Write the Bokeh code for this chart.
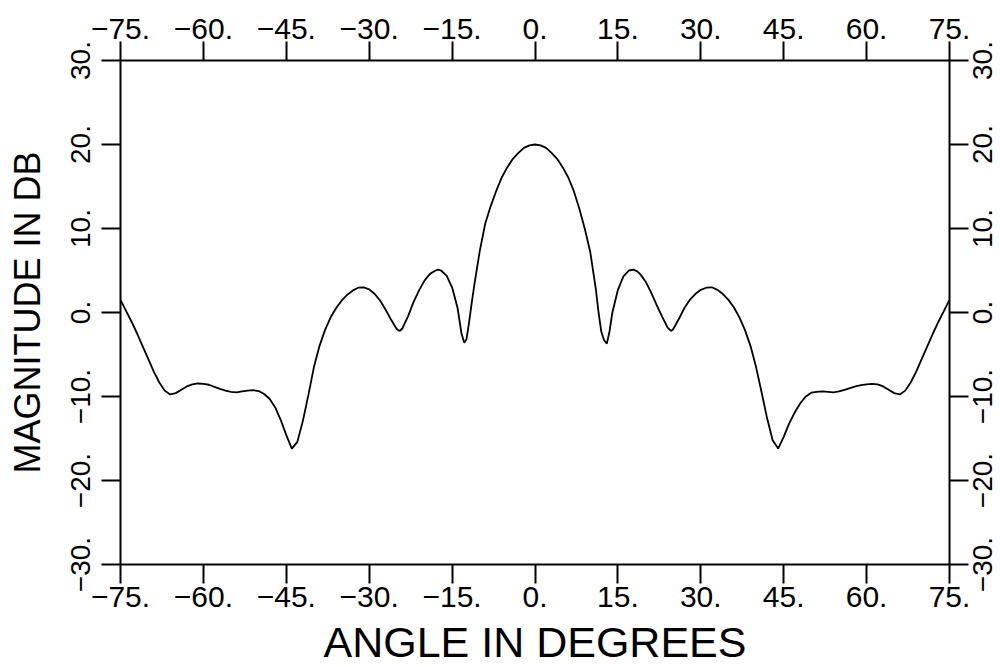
import math
from bokeh.plotting import figure
from bokeh.models import LinearAxis, FixedTicker, Range1d, LabelSet, ColumnDataSource
from bokeh.core.properties import value
from bokeh.embed import file_html
from bokeh.resources import INLINE

# ---- data ----
angle_deg = [
    -75, -74, -73, -72, -71, -70, -69, -68, -67, -66, -65, -64, -63, -62, -61, -60,
    -59, -58, -57, -56, -55, -54, -53, -52, -51, -50, -49, -48, -47, -46, -45, -44,
    -43, -42, -41, -40, -39, -38, -37, -36, -35, -34, -33, -32, -31, -30, -29, -28,
    -27, -26, -25, -24.5, -24, -23, -22, -21, -20, -19, -18, -17.5, -17, -16, -15,
    -14, -13.3, -12.8, -12.4, -12, -11.5, -11, -10, -9, -8, -7, -6, -5, -4, -3, -2,
    -1, 0,
    1, 2, 3, 4, 5, 6, 7, 8, 9, 10, 11, 11.5, 12, 12.5, 13, 13.5, 14, 15, 16, 17,
    17.8, 18.5, 19, 20, 21, 22, 23, 24, 24.6, 25, 26, 27, 28, 29, 30, 31, 32, 33,
    34, 35, 36, 37, 38, 39, 40, 41, 42, 43, 44, 45, 46, 47, 48, 49, 50, 51, 52, 53,
    54, 55, 56, 57, 58, 59, 60, 61, 62, 63, 64, 65, 66, 67, 68, 69, 70, 71, 72, 73,
    74, 75,
]
magnitude_db = [
    1.5, 0.2, -1.1, -2.5, -4.0, -5.5, -7.0, -8.3, -9.3, -9.75, -9.6, -9.2, -8.8, -8.55, -8.45, -8.5,
    -8.6, -8.85, -9.1, -9.3, -9.45, -9.5, -9.4, -9.3, -9.25, -9.35, -9.7, -10.3, -11.3, -12.8, -14.6, -16.2,
    -15.4, -12.9, -9.8, -6.5, -4.0, -2.1, -0.6, 0.5, 1.4, 2.1, 2.6, 2.95, 3.0, 2.75, 2.2, 1.4,
    0.3, -0.9, -2.0, -2.2, -1.9, -0.5, 1.2, 2.6, 3.8, 4.6, 5.0, 5.1, 5.0, 4.4, 3.0,
    0.5, -2.5, -3.6, -3.2, -1.5, 0.9, 3.2, 7.3, 10.6, 12.7, 14.5, 16.1, 17.3, 18.3, 19.0, 19.6,
    19.9, 20.0,
    19.9, 19.6, 19.0, 18.3, 17.3, 16.1, 14.5, 12.4, 10.0, 7.2, 2.8, 0.0, -2.3, -3.3, -3.7, -2.2, 0.0, 2.7, 4.3, 5.0,
    5.1, 4.9, 4.6, 3.7, 2.4, 0.9, -0.5, -1.8, -2.2, -2.0, -0.8, 0.5, 1.5, 2.2, 2.7, 2.95, 3.0, 2.7,
    2.2, 1.5, 0.6, -0.6, -2.1, -4.0, -6.5, -9.5, -12.6, -15.2, -16.2, -14.8, -13.2, -11.9, -10.8, -10.0, -9.55, -9.45, -9.4, -9.45,
    -9.5, -9.4, -9.2, -9.0, -8.8, -8.65, -8.55, -8.5, -8.55, -8.8, -9.2, -9.6, -9.75, -9.3, -8.3, -7.0, -5.5, -4.0, -2.5, -1.1,
    0.2, 1.5,
]

x_ticks = [-75, -60, -45, -30, -15, 0, 15, 30, 45, 60, 75]
x_tick_labels = ["\u221275.", "\u221260.", "\u221245.", "\u221230.", "\u221215.", "0.",
                 "15.", "30.", "45.", "60.", "75."]
y_ticks = [-30, -20, -10, 0, 10, 20, 30]
y_tick_labels = ["\u221230.", "\u221220.", "\u221210.", "0.", "10.", "20.", "30."]

FONT = "Liberation Sans"
X_MIN, X_MAX = -75, 75
Y_MIN, Y_MAX = -30, 30

# The frame fills the whole page; the four axes are fixed at the box edges, so
# that the right-hand tick labels (which read upward) are not clipped.
W, H = 1000, 667
BOX_LEFT, BOX_RIGHT, BOX_TOP, BOX_BOTTOM = 120, 949, 60, 564   # pixel box of the axes
px_per_x = (BOX_RIGHT - BOX_LEFT) / (X_MAX - X_MIN)
px_per_y = (BOX_BOTTOM - BOX_TOP) / (Y_MAX - Y_MIN)
x_view = (X_MIN - BOX_LEFT / px_per_x, X_MAX + (W - BOX_RIGHT) / px_per_x)
y_view = (Y_MIN - (H - BOX_BOTTOM) / px_per_y, Y_MAX + BOX_TOP / px_per_y)

p = figure(
    width=W, height=H,
    x_range=Range1d(*x_view), y_range=Range1d(*y_view),
    output_backend="svg", toolbar_location=None,
    x_axis_location=None, y_axis_location=None,
    min_border=0,
)
p.grid.visible = False
p.outline_line_color = None
p.background_fill_color = "white"
p.border_fill_color = "white"


def make_axis(ticks, labels, size, loc, bounds):
    ax = LinearAxis(fixed_location=loc, bounds=bounds)
    ax.ticker = FixedTicker(ticks=ticks, minor_ticks=[])
    ax.major_label_overrides = {t: l for t, l in zip(ticks, labels)}
    ax.minor_tick_line_color = None
    ax.major_tick_in = 0
    ax.major_tick_out = 19
    ax.major_tick_line_width = 2
    ax.major_tick_line_color = "black"
    ax.axis_line_width = 2
    ax.axis_line_color = "black"
    ax.major_label_text_font = FONT
    ax.major_label_text_font_size = size
    ax.major_label_text_color = "black"
    ax.major_label_standoff = 3
    return ax


bottom = make_axis(x_ticks, x_tick_labels, "30px", Y_MIN, (X_MIN, X_MAX))
bottom.axis_label = "ANGLE IN DEGREES"
bottom.axis_label_text_font = FONT
bottom.axis_label_text_font_size = "43px"
bottom.axis_label_text_font_style = "normal"
bottom.axis_label_text_color = "black"
bottom.axis_label_standoff = 8
p.add_layout(bottom, "below")

top = make_axis(x_ticks, x_tick_labels, "30px", Y_MAX, (X_MIN, X_MAX))
p.add_layout(top, "above")

left = make_axis(y_ticks, y_tick_labels, "28px", X_MIN, (Y_MIN, Y_MAX))
left.major_label_orientation = "parallel"
left.major_label_standoff = 12
left.axis_label = "MAGNITUDE IN DB"
left.axis_label_text_font = FONT
left.axis_label_text_font_size = "36px"
left.axis_label_text_font_style = "normal"
left.axis_label_text_color = "black"
left.axis_label_standoff = 20
p.add_layout(left, "left")

right = make_axis(y_ticks, [""] * len(y_ticks), "0px", X_MAX, (Y_MIN, Y_MAX))
right.major_label_standoff = 0
p.add_layout(right, "right")

# right-hand tick labels, reading upward as in the reference
right_src = ColumnDataSource(dict(y=y_ticks, text=y_tick_labels))
p.add_layout(LabelSet(
    x=X_MAX, y="y", text="text", source=right_src,
    angle=math.pi / 2, x_offset=33,
    text_align="center", text_baseline="middle",
    text_font=value(FONT), text_font_size="28px", text_color="black",
))

p.line(angle_deg, magnitude_db, line_color="black", line_width=1.8)

open("out.html", "w").write(file_html(p, INLINE))
